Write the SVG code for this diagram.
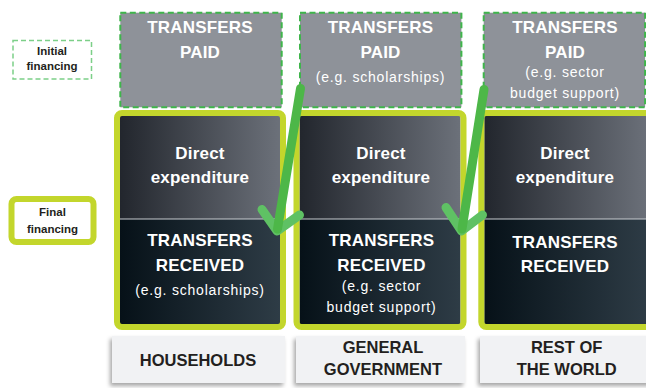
<svg xmlns="http://www.w3.org/2000/svg" width="646" height="388" viewBox="0 0 646 388">
<defs>
<linearGradient id="gTop" x1="0" y1="0" x2="1" y2="0">
<stop offset="0" stop-color="#22262d"/>
<stop offset="1" stop-color="#6c717a"/>
</linearGradient>
<linearGradient id="gBot" x1="0" y1="0" x2="1" y2="0">
<stop offset="0" stop-color="#061118"/>
<stop offset="1" stop-color="#2e3c46"/>
</linearGradient>
<filter id="sh" x="-10%" y="-20%" width="120%" height="150%">
<feDropShadow dx="-2" dy="3" stdDeviation="2" flood-color="#000" flood-opacity="0.35"/>
</filter>
</defs>
<style>
.dash{fill:#8e9299;stroke:#3fb54b;stroke-width:2;stroke-dasharray:6 3.5}
.lime{fill:none;stroke:#c3d62c;stroke-width:6}
.div{stroke:#c9ccd1;stroke-width:1}
.lab{fill:#f1f2f4;filter:url(#sh)}
.w{font-family:"Liberation Sans",Arial,sans-serif;fill:#ffffff;text-anchor:middle}
.b{font-weight:bold;font-size:17px;letter-spacing:0.2px}
.r{font-size:14px;letter-spacing:0.8px}
.k{font-family:"Liberation Sans",Arial,sans-serif;fill:#231f20;font-weight:bold;text-anchor:middle}
.kl{font-size:16.5px}
.ks{font-size:11.5px}
.shaft{stroke:#4db748;stroke-width:9;stroke-linecap:round;fill:none}
.wing{stroke:#5fc164;stroke-width:9;stroke-linecap:round;stroke-linejoin:round;fill:none}
</style>

<g id="legend-initial">
<rect x="13" y="40.5" width="78.5" height="38.5" fill="#ffffff" stroke="#7ccf88" stroke-width="1.5" stroke-dasharray="5 3"/>
<text class="k ks" x="52" y="55">Initial</text>
<text class="k ks" x="52" y="70">financing</text>
</g>

<g id="legend-final">
<rect x="11.5" y="199" width="82" height="43" rx="5" fill="#ffffff" stroke="#c3d62c" stroke-width="6"/>
<text class="k ks" x="52.5" y="216">Final</text>
<text class="k ks" x="52.5" y="232.5">financing</text>
</g>

<g id="households">
<rect class="dash" x="120.3" y="12.7" width="161.4" height="94.6"/>
<text class="w b" x="200" y="33.3">TRANSFERS</text>
<text class="w b" x="200" y="57.7">PAID</text>
<rect x="120" y="116" width="160" height="103" fill="url(#gTop)"/>
<rect x="120" y="219" width="160" height="105" fill="url(#gBot)"/>
<line class="div" x1="120" y1="219" x2="280" y2="219"/>
<rect class="lime" x="117" y="113" width="166" height="214" rx="5"/>
<text class="w b" x="200" y="158.7">Direct</text>
<text class="w b" x="200" y="183">expenditure</text>
<text class="w b" x="200" y="246">TRANSFERS</text>
<text class="w b" x="200" y="270.7">RECEIVED</text>
<text class="w r" x="200" y="295">(e.g. scholarships)</text>
<rect class="lab" x="112" y="336" width="173" height="47"/>
<text class="k kl" x="198" y="366">HOUSEHOLDS</text>
</g>

<g id="general-government">
<rect class="dash" x="300" y="12.7" width="161.4" height="94.6"/>
<text class="w b" x="380.5" y="33.3">TRANSFERS</text>
<text class="w b" x="380.5" y="57.7">PAID</text>
<text class="w r" x="380.5" y="81.7">(e.g. scholarships)</text>
<rect x="299.5" y="116" width="161" height="103" fill="url(#gTop)"/>
<rect x="299.5" y="219" width="161" height="105" fill="url(#gBot)"/>
<line class="div" x1="299.5" y1="219" x2="460.5" y2="219"/>
<rect class="lime" x="296.5" y="113" width="167" height="214" rx="5"/>
<text class="w b" x="381" y="158.7">Direct</text>
<text class="w b" x="381" y="183">expenditure</text>
<text class="w b" x="381.5" y="246">TRANSFERS</text>
<text class="w b" x="381.5" y="270.7">RECEIVED</text>
<text class="w r" x="381.5" y="291">(e.g. sector</text>
<text class="w r" x="381.5" y="311.7">budget support)</text>
<rect class="lab" x="296" y="336" width="169" height="47"/>
<text class="k kl" x="383" y="353.3">GENERAL</text>
<text class="k kl" x="383" y="375">GOVERNMENT</text>
</g>

<g id="rest-of-world">
<rect class="dash" x="483.7" y="12.7" width="161.4" height="94.6"/>
<text class="w b" x="565" y="33.3">TRANSFERS</text>
<text class="w b" x="565" y="57.7">PAID</text>
<text class="w r" x="565" y="76.7">(e.g. sector</text>
<text class="w r" x="565" y="97.7">budget support)</text>
<rect x="484.3" y="116" width="165" height="103" fill="url(#gTop)"/>
<rect x="484.3" y="219" width="165" height="105" fill="url(#gBot)"/>
<line class="div" x1="484.3" y1="219" x2="646" y2="219"/>
<rect class="lime" x="481.3" y="113" width="171" height="214" rx="5"/>
<text class="w b" x="565" y="158.7">Direct</text>
<text class="w b" x="565" y="183">expenditure</text>
<text class="w b" x="565" y="247.7">TRANSFERS</text>
<text class="w b" x="565" y="272.3">RECEIVED</text>
<rect class="lab" x="480" y="336" width="172" height="47"/>
<text class="k kl" x="566.7" y="353.3">REST OF</text>
<text class="k kl" x="566.7" y="375">THE WORLD</text>
</g>

<g id="connectors">
<polyline class="wing" points="262,209.5 277,231 299.5,215"/>
<line class="shaft" x1="300.5" y1="88.5" x2="277.5" y2="229"/>
<polyline class="wing" points="446,207.5 461.5,231 482.5,215"/>
<line class="shaft" x1="484" y1="89.5" x2="462" y2="229"/>
</g>
</svg>
